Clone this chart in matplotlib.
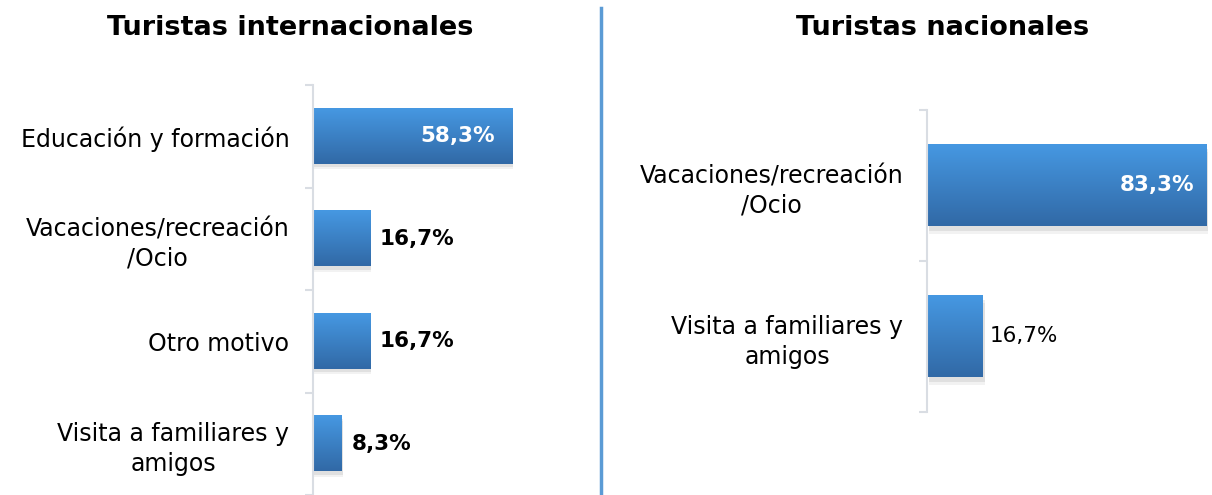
import numpy as np
import matplotlib.pyplot as plt
from matplotlib.colors import LinearSegmentedColormap
from matplotlib.patches import Rectangle

plt.rcParams['font.family'] = ['DejaVu Sans']

# datos
intl_labels = ['Educación y formación', 'Vacaciones/recreación\n/Ocio', 'Otro motivo', 'Visita a familiares y\namigos']
intl_values = [58.3, 16.7, 16.7, 8.3]
nac_labels = ['Vacaciones/recreación\n/Ocio', 'Visita a familiares y\namigos']
nac_values = [83.3, 16.7]

grad = LinearSegmentedColormap.from_list('barra', ['#4698E2', '#3169A6'])
axis_color = '#D9DDE3'


def draw_bars(ax, labels, values, xmax, inside_thr, bold_out, in_off, out_off):
    n = len(values)
    ys = np.arange(n)
    h = 0.54
    g = np.linspace(0, 1, 100).reshape(-1, 1)
    for y, v in zip(ys, values):
        # sombra
        for k, a in [(0.05, 0.05), (0.03, 0.07)]:
            sh = Rectangle((xmax * 0.006, y - h / 2 + k), v, h, color='#000000', alpha=a, lw=0, zorder=1)
            ax.add_patch(sh)
        ax.imshow(g, cmap=grad, aspect='auto', extent=(0, v, y + h / 2, y - h / 2), origin='upper', zorder=2)
        txt = f'{v:.1f}%'.replace('.', ',')
        if v > inside_thr:
            ax.annotate(txt, (v, y), xytext=(-in_off, 0), textcoords='offset pixels', color='white', fontsize=15.5,
                        fontweight='bold', ha='right', va='center', zorder=3)
        else:
            ax.annotate(txt, (v, y), xytext=(out_off, 0), textcoords='offset pixels', color='black', fontsize=15.5,
                        fontweight='bold' if bold_out else 'normal', ha='left', va='center', zorder=3)
    ax.set_xlim(0, xmax)
    ax.set_ylim(n - 0.5, -0.5)
    ax.set_yticks(ys)
    ax.set_yticklabels(labels, fontsize=17, multialignment='center', linespacing=1.3)
    ax.set_yticks(np.arange(n + 1) - 0.5, minor=True)
    ax.tick_params(axis='y', which='major', length=0, pad=17)
    ax.tick_params(axis='y', which='minor', length=6, color=axis_color, width=1.5)
    ax.set_xticks([])
    for s in ['top', 'right', 'bottom']:
        ax.spines[s].set_visible(False)
    ax.spines['left'].set_color(axis_color)
    ax.spines['left'].set_linewidth(1.5)


fig = plt.figure(figsize=(12.12, 4.95), dpi=100)

ax1 = fig.add_axes([313 / 1212, 0.0, 205 / 1212, 410 / 495])
draw_bars(ax1, intl_labels, intl_values, 60, 40, True, 17, 10)

ax2 = fig.add_axes([927 / 1212, 1 - 412 / 495, 285 / 1212, 302 / 495])
draw_bars(ax2, nac_labels, nac_values, 85, 40, False, 12, 7)

fig.text(290 / 1212, 1 - 28 / 495, 'Turistas internacionales', fontsize=19.5, fontweight='bold', ha='center', va='center')
fig.text(943 / 1212, 1 - 28 / 495, 'Turistas nacionales', fontsize=19.5, fontweight='bold', ha='center', va='center')

fig.add_artist(plt.Line2D([601 / 1212, 601 / 1212], [0, 1 - 8 / 495], color='#5B9BD5', lw=2.5))

fig.savefig('out.png', dpi=100)
